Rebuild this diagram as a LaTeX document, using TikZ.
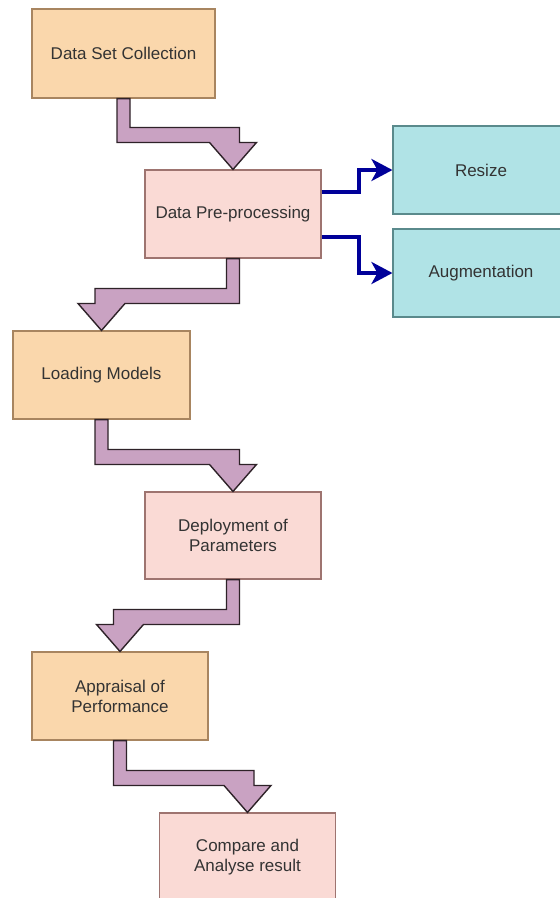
\documentclass[tikz,border=0pt]{standalone}
\usepackage{fontspec}
\setmainfont{Liberation Sans}
\usetikzlibrary{calc,arrows.meta}
\definecolor{orfill}{HTML}{FAD7AC}
\definecolor{ordraw}{HTML}{A88560}
\definecolor{pkfill}{HTML}{FADAD5}
\definecolor{pkdraw}{HTML}{9E7470}
\definecolor{blfill}{HTML}{B0E3E6}
\definecolor{bldraw}{HTML}{5A8A8C}
\definecolor{flexfill}{HTML}{C9A2C2}
\definecolor{flexdraw}{HTML}{2E2228}
\definecolor{navy}{HTML}{000099}
\definecolor{txt}{HTML}{333333}
\newcommand\flexarr[2]{%
  \draw[flex] let \p1=(#1.south), \p2=(#2.north), \n1={sign(\x2-\x1)} in
   ({\x1-(\n1)*6.5pt},\y1) -- ({\x1-(\n1)*6.5pt},{\y2+27pt}) -- ({\x2-(\n1)*23.5pt},{\y2+27pt})
   -- (\x2,\y2) -- ({\x2+(\n1)*23.5pt},{\y2+27pt}) -- ({\x2+(\n1)*6.5pt},{\y2+27pt})
   -- ({\x2+(\n1)*6.5pt},{\y2+42pt}) -- ({\x1+(\n1)*6.5pt},{\y2+42pt}) -- ({\x1+(\n1)*6.5pt},\y1) -- cycle;}
\begin{document}
\begin{tikzpicture}[x=1pt,y=-1pt,
  box/.style={line width=1.1pt, minimum width=176pt, minimum height=88pt, inner sep=2pt,
    align=center, text=txt, font=\fontsize{17}{20}\selectfont},
  orbox/.style={box, draw=ordraw, fill=orfill},
  pkbox/.style={box, draw=pkdraw, fill=pkfill},
  blbox/.style={box, draw=bldraw, fill=blfill},
  flex/.style={fill=flexfill, draw=flexdraw, line width=1.4pt, line join=miter},
  bluearrow/.style={draw=navy, line width=4pt, -{Stealth[length=21pt,width=22pt,inset=6pt]}}]
\useasboundingbox (0,0) rectangle (560,898);
\fill[white] (0,0) rectangle (560,898);
\clip (0,0) rectangle (560,898);
\node[orbox, minimum width=183pt, minimum height=89pt] (b1) at (123.5,53.5) {Data Set Collection};
\node[pkbox] (b2) at (233,214) {Data Pre-processing};
\node[orbox, minimum width=177pt] (b3) at (101.5,375) {Loading Models};
\node[pkbox, minimum height=87pt] (b4) at (233,535.5) {Deployment of\\Parameters};
\node[orbox] (b5) at (120,696) {Appraisal of\\Performance};
\node[pkbox] (b6) at (247.5,857) {Compare and\\Analyse result};
\node[blbox] (r1) at (481,170) {Resize};
\node[blbox] (r2) at (481,273) {Augmentation};
\flexarr{b1}{b2}
\flexarr{b2}{b3}
\flexarr{b3}{b4}
\flexarr{b4}{b5}
\flexarr{b5}{b6}
\draw[bluearrow] ([yshift=22pt]b2.east) -- ++(37,0) |- (r1.west);
\draw[bluearrow] ([yshift=-23pt]b2.east) -- ++(37,0) |- (r2.west);
\end{tikzpicture}
\end{document}
